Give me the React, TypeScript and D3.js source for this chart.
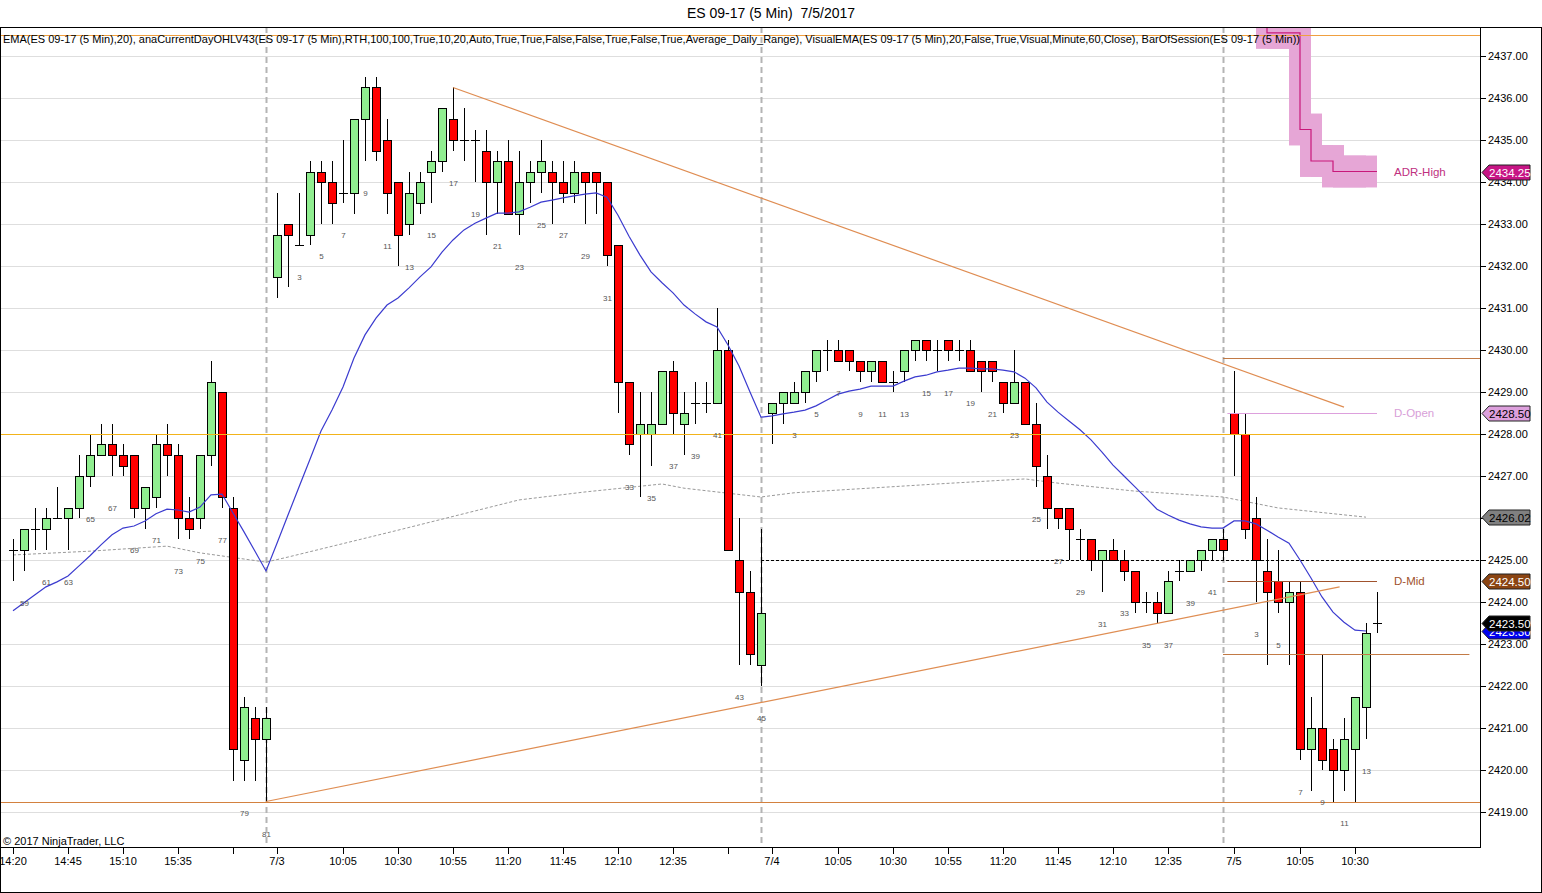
import React from 'react';
import * as d3 from 'd3';

// ---------------- data ----------------
const sessionDates = ['', '7/3', '7/4', '7/5'];
const sessionFirstBar = [58, 1, 1, 1];
const sessionBarCount = [24, 45, 42, 14];

const opens = [
  2425.25, 2425.25, 2425.75, 2425.75, 2426, 2426, 2426.25, 2427, 2427.5, 2427.75, 2427.5, 2427.5,
  2426.25, 2426.5, 2427.75, 2427.5, 2426, 2426, 2427.5, 2429, 2426.25, 2420.25, 2421.25, 2420.75,
  2431.75, 2433, 2432.5, 2432.75, 2434.25, 2434, 2433.75, 2433.75, 2435.5, 2436.25,
  2435, 2434, 2433, 2433.5, 2434.25, 2434.5, 2435.5, 2435, 2435, 2434.75,
  2434, 2434.5, 2433.25, 2434, 2434.25, 2434.25, 2434, 2433.75, 2434.25, 2434.25,
  2434, 2432.5, 2429.25, 2428, 2428, 2428.25, 2429.5, 2428.25, 2428.75, 2428.75,
  2428.75, 2430, 2425, 2424.25, 2422.5,
  2428.5, 2428.75, 2428.75, 2429, 2429.5, 2430, 2430, 2430, 2429.75, 2429.5,
  2429.75, 2429.25, 2429.5, 2430, 2430.25, 2430, 2430.25, 2430, 2430, 2429.75,
  2429.75, 2429.25, 2428.75, 2429.25, 2428.25, 2427, 2426.25, 2426.25, 2425.5, 2425.5,
  2425, 2425.25, 2425, 2424.75, 2424, 2424, 2423.75, 2424.75, 2424.75, 2425,
  2425.25, 2425.5,
  2428.5, 2428, 2426, 2424.75, 2424.5, 2424, 2424.25, 2420.5, 2421, 2420.5, 2420, 2420.5, 2421.5, 2423.5,
];
const highs = [
  2425.5, 2425.75, 2426.25, 2426.25, 2426.75, 2426.25, 2427.5, 2428, 2428.25, 2428.25, 2427.75, 2427.5,
  2426.75, 2428, 2428.25, 2427.75, 2426.5, 2427.5, 2429.75, 2429, 2426.5, 2421.75, 2421.5, 2421.5,
  2433.75, 2433, 2433.75, 2434.5, 2434.5, 2434.5, 2435, 2435.5, 2436.5, 2436.5,
  2435.5, 2434, 2434.25, 2434.25, 2434.75, 2435.75, 2436.25, 2435.75, 2435.25, 2435.25,
  2434.75, 2435, 2434.75, 2434.5, 2435, 2434.5, 2434.5, 2434.5, 2434.25, 2434.25,
  2434, 2432.5, 2429.25, 2429, 2429, 2429.5, 2429.75, 2429, 2429.25, 2429.25,
  2431, 2430.25, 2426, 2424.75, 2425.75,
  2428.75, 2429, 2429.25, 2429.5, 2430, 2430.25, 2430.25, 2430, 2429.75, 2429.75,
  2429.75, 2429.5, 2430, 2430.25, 2430.25, 2430.25, 2430.25, 2430.25, 2430.25, 2429.75,
  2429.75, 2429.25, 2430, 2429.25, 2428.75, 2427.5, 2426.25, 2426.25, 2425.75, 2425.5,
  2425.25, 2425.5, 2425.25, 2424.75, 2424.25, 2424.25, 2424.75, 2425, 2425, 2425.25,
  2425.5, 2425.75,
  2429.5, 2428.5, 2426.5, 2425.5, 2425.25, 2424.5, 2424.5, 2421.75, 2422.75, 2420.75, 2421.25, 2421.75, 2423.5, 2424.25,
];
const lows = [
  2424.5, 2424.75, 2425.25, 2425.25, 2426, 2425.25, 2426, 2426.75, 2427.5, 2427, 2427, 2426,
  2425.75, 2426.25, 2427, 2425.5, 2425.5, 2425.75, 2427.25, 2426.25, 2419.75, 2419.75, 2419.75, 2419.25,
  2431.25, 2431.5, 2432.5, 2432.5, 2433, 2433, 2433.5, 2433.25, 2434.5, 2434.5,
  2433.25, 2432, 2432.75, 2433.25, 2433.5, 2434.25, 2434.75, 2434.5, 2434, 2432.75,
  2433.25, 2433.25, 2432.75, 2433.5, 2433.75, 2433, 2433.5, 2433.5, 2433, 2433.25,
  2432, 2428.5, 2427.5, 2426.5, 2427.25, 2428.25, 2428, 2427.5, 2428.25, 2428.5,
  2428.75, 2425.25, 2422.5, 2422.5, 2422,
  2427.75, 2428.25, 2428.75, 2428.75, 2429.25, 2429.5, 2429.75, 2429.5, 2429.25, 2429.25,
  2429.25, 2429, 2429.25, 2429.75, 2429.75, 2429.5, 2429.75, 2429.75, 2429.5, 2429,
  2429.25, 2428.5, 2428.75, 2428.25, 2426.75, 2425.75, 2425.75, 2425, 2425, 2424.75,
  2424.25, 2425, 2424.5, 2423.75, 2423.75, 2423.5, 2423.75, 2424.5, 2424.75, 2424.75,
  2425, 2425,
  2427, 2425.5, 2424, 2422.5, 2423.75, 2422.5, 2420.25, 2419.5, 2420, 2419.25, 2419.5, 2419.25, 2420.75, 2423.25,
];
const closes = [
  2425.25, 2425.75, 2425.75, 2426, 2426, 2426.25, 2427, 2427.5, 2427.75, 2427.5, 2427.25, 2426.25,
  2426.75, 2427.75, 2427.5, 2426, 2425.75, 2427.5, 2429.25, 2426.5, 2420.5, 2421.5, 2420.75, 2421.25,
  2432.75, 2432.75, 2432.5, 2434.25, 2434, 2433.5, 2433.75, 2435.5, 2436.25, 2434.75,
  2433.75, 2432.75, 2433.75, 2434, 2434.5, 2435.75, 2435, 2435, 2435, 2434,
  2434.5, 2433.25, 2434, 2434.25, 2434.5, 2434, 2433.75, 2434.25, 2434, 2434,
  2432.25, 2429.25, 2427.75, 2428.25, 2428.25, 2429.5, 2428.5, 2428.5, 2428.75, 2428.75,
  2430, 2425.25, 2424.25, 2422.75, 2423.75,
  2428.75, 2429, 2429, 2429.5, 2430, 2430, 2429.75, 2429.75, 2429.5, 2429.75,
  2429.25, 2429.25, 2430, 2430.25, 2430, 2430, 2430, 2430, 2429.5, 2429.5,
  2429.5, 2428.75, 2429.25, 2428.25, 2427.25, 2426.25, 2426, 2425.75, 2425.5, 2425,
  2425.25, 2425, 2424.75, 2424, 2424, 2423.75, 2424.5, 2424.75, 2425, 2425.25,
  2425.5, 2425.25,
  2428, 2425.75, 2425, 2424.25, 2424, 2424.25, 2420.5, 2421, 2420.25, 2420, 2420.75, 2421.75, 2423.25, 2423.5,
];

// EMA(20) (one value per bar, last bar has none)
const emaValues = [
  2423.79, 2423.98, 2424.17, 2424.36, 2424.48, 2424.62, 2424.86, 2425.10, 2425.36, 2425.60, 2425.76, 2425.81,
  2425.93, 2426.10, 2426.21, 2426.19, 2426.14, 2426.26, 2426.55, 2426.57, 2426.12, 2425.67, 2425.21, 2424.74,
  2425.40, 2426.07, 2426.74, 2427.40, 2428.07, 2428.57, 2429.12, 2429.81, 2430.36, 2430.76,
  2431.07, 2431.24, 2431.48, 2431.74, 2431.98, 2432.33, 2432.62, 2432.86, 2433.02, 2433.14,
  2433.26, 2433.26, 2433.29, 2433.40, 2433.52, 2433.57, 2433.62, 2433.67, 2433.71, 2433.74,
  2433.64, 2433.21, 2432.71, 2432.26, 2431.86, 2431.60, 2431.36, 2431.07, 2430.86, 2430.67,
  2430.55, 2430.12, 2429.62, 2429.00, 2428.40,
  2428.43, 2428.48, 2428.52, 2428.57, 2428.67, 2428.81, 2428.95, 2429.02, 2429.07, 2429.14,
  2429.14, 2429.14, 2429.26, 2429.36, 2429.40, 2429.48, 2429.52, 2429.57, 2429.57, 2429.55,
  2429.55, 2429.52, 2429.48, 2429.33, 2429.10, 2428.76, 2428.52, 2428.31, 2428.10, 2427.86,
  2427.57, 2427.26, 2427.00, 2426.74, 2426.48, 2426.21, 2426.07, 2425.95, 2425.86, 2425.79,
  2425.76, 2425.76,
  2425.93, 2425.93, 2425.86, 2425.71, 2425.55, 2425.40, 2425.00, 2424.57, 2424.12, 2423.76, 2423.52, 2423.33, 2423.31,
];

// VisualEMA (60 min) knots: bar index / value
const visualEmaBars = [0, 7, 14, 17, 23, 25, 35, 46, 52, 59, 61, 68, 71, 84, 92, 95, 102, 110, 115, 123];
const visualEmaValues = [2425.12, 2425.21, 2425.33, 2425.17, 2424.95, 2425.07, 2425.71, 2426.43, 2426.62, 2426.81,
  2426.71, 2426.50, 2426.60, 2426.81, 2426.93, 2426.83, 2426.64, 2426.50, 2426.24, 2426.02];

// ADR-High values for the 7/5 session bars 1..13
const adrHighValues = [2439, 2439, 2439, 2437.55, 2437.55, 2437.55, 2435.25, 2434.5, 2434.5, 2434.25, 2434.25, 2434.25, 2434.25];

// drawn trend lines: start bar/price, end bar/price
const trendStartBar = [40, 23];
const trendStartPrice = [2436.25, 2419.25];
const trendEndBar = [121, 120.6];
const trendEndPrice = [2428.64, 2424.36];

// horizontal levels (null = plot edge)
const levelPrices = [2437.5, 2428, 2419.25, 2425, 2429.8, 2422.75, 2428.5, 2424.5];
const levelFromBar = [null, null, null, 68, 110, 110, 110.4, 110.4];
const levelToBar = [null, null, null, null, null, 132.4, 124, 124];
const levelColors = ['#f0a040', '#f2b31a', '#d3813f', '#000000', '#c27a45', '#c27a45', '#dda0dd', '#a0522d'];
const levelDash = ['', '', '', '3,2', '', '', '', ''];

const levelTextLabels = ['ADR-High', 'D-Open', 'D-Mid'];
const levelTextPrices = [2434.25, 2428.5, 2424.5];
const levelTextColors = ['#c0307f', '#d8a0d8', '#a0522d'];

const markerPrices = [2434.25, 2428.5, 2426.02, 2424.5, 2423.3, 2423.5];
const markerFills = ['#c71585', '#dda0dd', '#808080', '#8b4513', '#0000ee', '#000000'];
const markerTextColors = ['#ffffff', '#000000', '#000000', '#ffffff', '#ffffff', '#ffffff'];

const tickBars = [0, 5, 10, 15, 20, 24, 30, 35, 40, 45, 50, 55, 60, 65, 69, 75, 80, 85, 90, 95, 100, 105, 111, 117, 122];
const tickLabels = ['14:20', '14:45', '15:10', '15:35', '', '7/3', '10:05', '10:30', '10:55', '11:20', '11:45', '12:10', '12:35', '',
  '7/4', '10:05', '10:30', '10:55', '11:20', '11:45', '12:10', '12:35', '7/5', '10:05', '10:30'];

const sessionEndBars = [23, 68, 110];

const titleText = 'ES 09-17 (5 Min)\u00a0\u00a07/5/2017';
const headerText = 'EMA(ES 09-17 (5 Min),20), anaCurrentDayOHLV43(ES 09-17 (5 Min),RTH,100,100,True,10,20,Auto,True,True,False,False,True,False,True,Average_Daily_Range), VisualEMA(ES 09-17 (5 Min),20,False,True,Visual,Minute,60,Close), BarOfSession(ES 09-17 (5 Min))';

const FONT = 'Liberation Sans, Arial, sans-serif';

export default function App() {
  const W = 1542, H = 893;
  const L = 0, R = 1480, T = 27, B = 847;
  const nBars = opens.length;
  const x = d3.scaleLinear().domain([0, nBars - 1]).range([13, 13 + (nBars - 1) * 11]);
  const y = d3.scaleLinear().domain([2419, 2437]).range([812, 56]);
  const Y = (p: number) => Math.round(y(p));
  const yTicks = d3.range(2419, 2438, 1);
  const fmt = d3.format('.2f');

  // bar-of-session numbers
  const barNos: number[] = [];
  sessionFirstBar.forEach((f, s) => {
    for (let k = 0; k < sessionBarCount[s]; k++) barNos.push(f + k);
  });

  const emaLine = d3.line<number>().x((_, i) => x(i)).y((d) => y(d))(emaValues) || '';
  const vEmaLine = d3.line<number>().x((_, i) => x(visualEmaBars[i])).y((d) => y(d))(visualEmaValues) || '';

  const adrStart = nBars - sessionBarCount[3];
  const adrPts: [number, number][] = adrHighValues.map((v, i) => [adrStart + i, v]);
  adrPts.push([adrStart + adrHighValues.length, adrHighValues[adrHighValues.length - 1]]);
  const adrLine = d3.line<[number, number]>().x((d) => x(d[0])).y((d) => y(d[1])).curve(d3.curveStepAfter)(adrPts) || '';

  const halfBand = 0.38;

  return (
    <svg width={W} height={H} style={{ position: 'absolute', left: 0, top: 0, background: '#fff' }} fontFamily={FONT}>
      <defs>
        <clipPath id="plotclip">
          <rect x={L} y={T} width={R - L} height={B - T} />
        </clipPath>
      </defs>
      <rect x={0} y={0} width={W} height={H} fill="#ffffff" />
      <text x={771} y={18} textAnchor="middle" fontSize={14} fill="#000">{titleText}</text>

      <g clipPath="url(#plotclip)">
        {/* grid */}
        {yTicks.map((t) => (
          <line key={'g' + t} x1={L} x2={R} y1={Y(t) + 0.5} y2={Y(t) + 0.5} stroke="#dedede" strokeWidth={1} />
        ))}
        {/* session separators */}
        {sessionEndBars.map((b) => (
          <line key={'s' + b} x1={x(b) + 0.5} x2={x(b) + 0.5} y1={T} y2={B} stroke="#b4b4b4" strokeWidth={2} strokeDasharray="6,4" />
        ))}
        {/* ADR band */}
        {adrHighValues.map((v, i) => {
          const prev = i === 0 ? v : adrHighValues[i - 1];
          const hi = Math.max(prev, v) + halfBand;
          const lo = Math.min(prev, v) - halfBand;
          const g = adrStart + i;
          return (
            <rect key={'adr' + i} x={x(g) - 11} width={22} y={y(hi)} height={y(lo) - y(hi)} fill="#e6a6d6" />
          );
        })}
        <path d={adrLine} fill="none" stroke="#c8187a" strokeWidth={1.2} />

        {/* visual EMA */}
        <path d={vEmaLine} fill="none" stroke="#9a9a9a" strokeWidth={1} strokeDasharray="3,2" />

        {/* candles */}
        {opens.map((o, i) => {
          const c = closes[i], h = highs[i], l = lows[i];
          const xc = Math.round(x(i));
          const yo = Y(o), yc = Y(c);
          const up = c > o;
          return (
            <g key={'c' + i}>
              <line x1={xc + 0.5} x2={xc + 0.5} y1={Y(h)} y2={Y(l)} stroke="#000" strokeWidth={1} />
              {o === c ? (
                <line x1={xc - 4} x2={xc + 5} y1={yo + 0.5} y2={yo + 0.5} stroke="#000" strokeWidth={1} />
              ) : (
                <rect x={xc - 3.5} y={Math.min(yo, yc) + 0.5} width={8} height={Math.abs(yo - yc)}
                  fill={up ? '#90ee90' : '#ff0000'} stroke="#000" strokeWidth={1} />
              )}
            </g>
          );
        })}

        {/* EMA */}
        <path d={emaLine} fill="none" stroke="#3b3bcf" strokeWidth={1.2} />

        {/* horizontal levels */}
        {levelPrices.map((p, i) => (
          <line key={'lv' + i}
            x1={levelFromBar[i] === null ? L : x(levelFromBar[i] as number)}
            x2={levelToBar[i] === null ? R : x(levelToBar[i] as number)}
            y1={Math.round(y(p)) + 0.5} y2={Math.round(y(p)) + 0.5}
            stroke={levelColors[i]} strokeWidth={1} strokeDasharray={levelDash[i] || undefined} />
        ))}

        {/* trend lines */}
        {trendStartBar.map((b, i) => (
          <line key={'tr' + i} x1={x(b)} y1={y(trendStartPrice[i])} x2={x(trendEndBar[i])} y2={y(trendEndPrice[i])}
            stroke="#df8d52" strokeWidth={1.2} />
        ))}

        {/* level text labels */}
        {levelTextLabels.map((t, i) => (
          <text key={'lt' + i} x={x(nBars - 1) + 17} y={y(levelTextPrices[i]) + 4} fontSize={11.5} fill={levelTextColors[i]}>{t}</text>
        ))}

        {/* bar-of-session labels */}
        {barNos.map((n, i) => (n % 2 === 1 && n > 1 ? (
          <text key={'bn' + i} x={x(i) + 0.5} y={y(lows[i]) + 35} fontSize={8} fill="#555" textAnchor="middle">{n}</text>
        ) : null))}

        {/* header */}
        <text x={3} y={43} fontSize={10.5} fill="#000" textLength={1297} lengthAdjust="spacingAndGlyphs">{headerText}</text>
        <text x={3} y={845} fontSize={11} fill="#000">{'\u00a9 2017 NinjaTrader, LLC'}</text>
      </g>

      {/* frames */}
      <rect x={0.5} y={T + 0.5} width={W - 1} height={H - T - 1} fill="none" stroke="#000" strokeWidth={1} />
      <line x1={R + 0.5} x2={R + 0.5} y1={T} y2={B + 1} stroke="#000" strokeWidth={1} />
      <line x1={0} x2={R + 1} y1={B + 0.5} y2={B + 0.5} stroke="#000" strokeWidth={1} />

      {/* y axis */}
      {yTicks.map((t) => (
        <g key={'yt' + t}>
          <line x1={R} x2={R + 6} y1={Y(t) + 0.5} y2={Y(t) + 0.5} stroke="#000" />
          <text x={R + 8} y={Y(t) + 4} fontSize={11} fill="#000">{fmt(t)}</text>
        </g>
      ))}

      {/* x axis */}
      {tickBars.map((b, i) => (
        <g key={'xt' + i}>
          <line x1={x(b) + 0.5} x2={x(b) + 0.5} y1={B} y2={B + 7} stroke="#000" />
          {tickLabels[i] ? (
            <text x={x(b)} y={865} fontSize={11} textAnchor="middle" fill="#000">{tickLabels[i]}</text>
          ) : null}
        </g>
      ))}

      {/* price markers */}
      {markerPrices.map((p, i) => {
        const yy = Math.round(y(p)) + 0.5;
        const d = `M${R + 2},${yy} L${R + 9},${yy - 7.5} L${R + 50},${yy - 7.5} L${R + 50},${yy + 7.5} L${R + 9},${yy + 7.5} Z`;
        return (
          <g key={'mk' + i}>
            <path d={d} fill={markerFills[i]} stroke="#222" strokeWidth={1} />
            <text x={R + 9} y={yy + 4} fontSize={11.5} fill={markerTextColors[i]}>{fmt(p)}</text>
          </g>
        );
      })}
    </svg>
  );
}
